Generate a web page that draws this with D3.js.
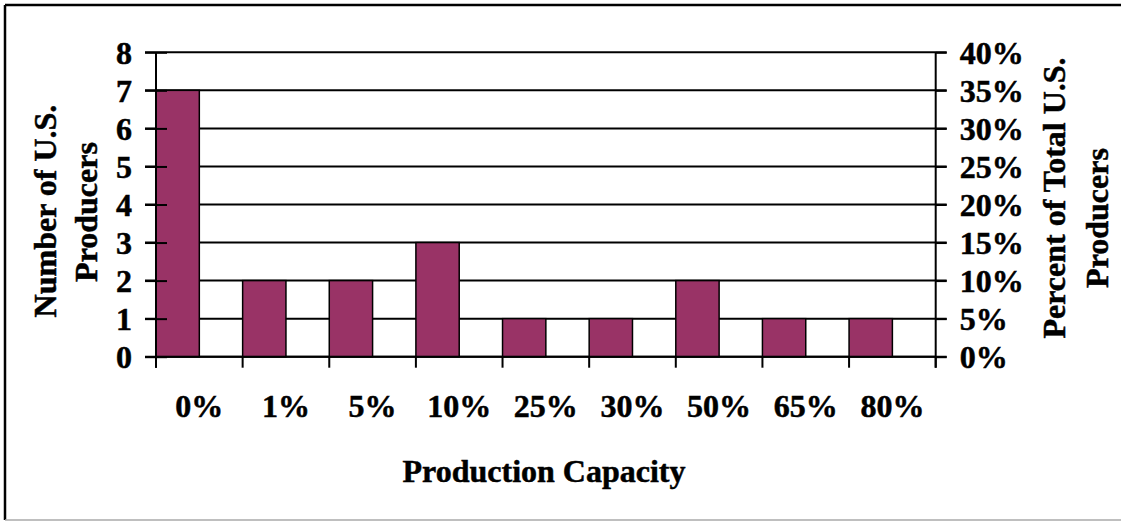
<!DOCTYPE html>
<html>
<head>
<meta charset="utf-8">
<script src="https://cdn.jsdelivr.net/npm/d3@7"></script>
<style>
  html, body { margin: 0; padding: 0; background: #fff; }
  svg { display: block; }
  text { font-family: "Liberation Serif", "Times New Roman", serif; font-weight: bold; fill: #000; stroke: #000; stroke-width: 0.5px; }
</style>
</head>
<body>
<svg id="chart" width="1121" height="521"></svg>
<script>
// ---- data ----
const categories = ["0%", "1%", "5%", "10%", "25%", "30%", "50%", "65%", "80%"];
const producers = [7, 2, 2, 3, 1, 1, 2, 1, 1];
const leftTicks = [0, 1, 2, 3, 4, 5, 6, 7, 8];
const rightTicks = [0, 0.05, 0.10, 0.15, 0.20, 0.25, 0.30, 0.35, 0.40];
const xTitle = "Production Capacity";
const leftTitle = ["Number of U.S.", "Producers"];
const rightTitle = ["Percent of Total U.S.", "Producers"];

// ---- layout ----
const W = 1121, H = 521;
const plot = { left: 156, right: 935.7, top: 52.3, bottom: 356.7 };
const barColor = "#993366";
const fontSize = 32;

const svg = d3.select("#chart");

// frame
svg.append("line").attr("x1", 5).attr("y1", 5).attr("x2", W).attr("y2", 5)
  .attr("stroke", "#000").attr("stroke-width", 2.5);
svg.append("line").attr("x1", 5).attr("y1", 5).attr("x2", 5).attr("y2", 520)
  .attr("stroke", "#000").attr("stroke-width", 2.5);
svg.append("line").attr("x1", 5).attr("y1", 520).attr("x2", W).attr("y2", 520)
  .attr("stroke", "#aaa").attr("stroke-width", 1.5);

const x = d3.scaleBand().domain(categories).range([plot.left, plot.right]).paddingInner(0).paddingOuter(0);
const y = d3.scaleLinear().domain([0, 8]).range([plot.bottom, plot.top]);
const y2 = d3.scaleLinear().domain([0, 0.4]).range([plot.bottom, plot.top]);

// gridlines (include outer ticks both sides)
svg.append("g").selectAll("line").data(leftTicks).join("line")
  .attr("x1", plot.left - 11).attr("x2", plot.right + 11)
  .attr("y1", d => y(d)).attr("y2", d => y(d))
  .attr("stroke", "#000").attr("stroke-width", 2);

// bars
const bw = x.bandwidth() / 2;
svg.append("g").selectAll("rect").data(producers).join("rect")
  .attr("x", (d, i) => x(categories[i]))
  .attr("y", d => y(d))
  .attr("width", bw)
  .attr("height", d => y(0) - y(d))
  .attr("fill", barColor)
  .attr("stroke", "#000").attr("stroke-width", 1.5);

// left axis
const gL = svg.append("g").attr("transform", `translate(${plot.left},0)`)
  .call(d3.axisLeft(y).tickValues(leftTicks).tickFormat(d3.format("d")).tickSize(11).tickPadding(13));
gL.select(".domain").remove();
gL.selectAll(".tick line").attr("x2", 11).attr("x1", -11).attr("stroke", "#000").attr("stroke-width", 2);
gL.selectAll("text").style("font-size", fontSize + "px").attr("dy", "0.34em");
svg.append("line").attr("x1", plot.left).attr("x2", plot.left)
  .attr("y1", plot.top).attr("y2", plot.bottom + 11).attr("stroke", "#000").attr("stroke-width", 2);

// right axis
const gR = svg.append("g").attr("transform", `translate(${plot.right},0)`)
  .call(d3.axisRight(y2).tickValues(rightTicks).tickFormat(d3.format(".0%")).tickSize(11).tickPadding(13));
gR.select(".domain").remove();
gR.selectAll(".tick line").attr("stroke", "#000").attr("stroke-width", 2);
gR.selectAll("text").style("font-size", fontSize + "px").attr("dy", "0.34em");
svg.append("line").attr("x1", plot.right).attr("x2", plot.right)
  .attr("y1", plot.top).attr("y2", plot.bottom + 11).attr("stroke", "#000").attr("stroke-width", 2);

// bottom axis
svg.append("line").attr("x1", plot.left).attr("x2", plot.right)
  .attr("y1", plot.bottom).attr("y2", plot.bottom).attr("stroke", "#000").attr("stroke-width", 2);
const boundaries = categories.map(c => x(c)).concat([plot.right]);
svg.append("g").selectAll("line").data(boundaries).join("line")
  .attr("x1", d => d).attr("x2", d => d)
  .attr("y1", plot.bottom).attr("y2", plot.bottom + 11)
  .attr("stroke", "#000").attr("stroke-width", 2);
const gB = svg.append("g").attr("transform", `translate(0,${plot.bottom})`)
  .call(d3.axisBottom(x).tickSize(0));
gB.select(".domain").remove();
gB.selectAll("text").style("font-size", fontSize + "px").attr("dy", null).attr("y", 60);

// titles
svg.append("text").attr("x", 544).attr("y", 481.5).attr("text-anchor", "middle")
  .style("font-size", fontSize + "px").text(xTitle);

svg.append("text").attr("transform", "translate(56,211) rotate(-90)").attr("text-anchor", "middle")
  .style("font-size", fontSize + "px").text(leftTitle[0]);
svg.append("text").attr("transform", "translate(97,212) rotate(-90)").attr("text-anchor", "middle")
  .style("font-size", fontSize + "px").text(leftTitle[1]);

svg.append("text").attr("transform", "translate(1065,198) rotate(-90)").attr("text-anchor", "middle")
  .style("font-size", fontSize + "px").text(rightTitle[0]);
svg.append("text").attr("transform", "translate(1108,218) rotate(-90)").attr("text-anchor", "middle")
  .style("font-size", fontSize + "px").text(rightTitle[1]);
</script>
</body>
</html>
